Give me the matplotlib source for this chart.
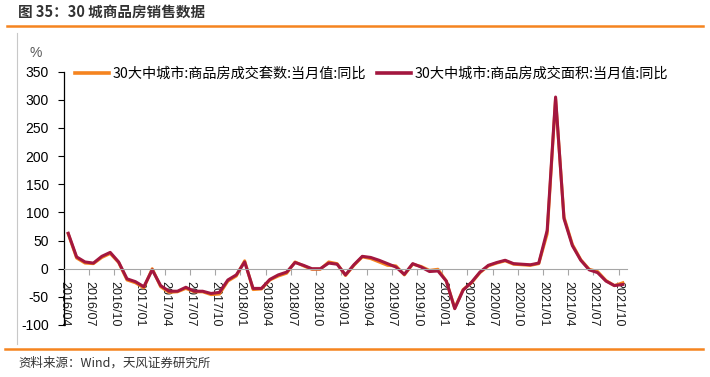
import matplotlib
matplotlib.use('Agg')
import matplotlib.pyplot as plt
import matplotlib.lines as mlines
import numpy as np
import pandas as pd

plt.rcParams['font.family'] = ['Liberation Sans', 'Noto Sans CJK SC', 'DejaVu Sans']
plt.rcParams['axes.unicode_minus'] = False

# 月份 2016/04 - 2021/10
months = pd.date_range('2016-04-01', periods=67, freq='MS').strftime('%Y/%m').tolist()

# 30大中城市:商品房成交套数:当月值:同比 (%)
units_yoy = [62, 19, 10, 9, 20, 27, 11, -20, -25, -34,
             0, -32, -42, -41, -35, -41, -41, -46, -45, -22,
             -13, 14, -37, -36, -20, -13, -8, 12, 5, -1,
             -1, 12, 9, -12, 6, 21, 18, 12, 6, 5,
             -11, 8, 4, -3, -1, -22, -70, -37, -25, -7,
             5, 10, 14, 8, 7, 6, 9, 62, 302, 92,
             43, 16, -1, -5, -21, -30, -25]

# 30大中城市:商品房成交面积:当月值:同比 (%)
area_yoy = [63, 21, 12, 10, 22, 29, 12, -18, -23, -32,
            -2, -30, -40, -40, -33, -40, -40, -44, -42, -20,
            -11, 12, -35, -35, -19, -11, -6, 11, 6, 0,
            0, 10, 8, -11, 7, 22, 20, 15, 9, 3,
            -10, 9, 3, -5, -4, -22, -71, -38, -24, -6,
            6, 11, 15, 9, 8, 7, 10, 68, 305, 89,
            41, 15, -2, -7, -22, -30, -28]

series_names = ['30大中城市:商品房成交套数:当月值:同比',
                '30大中城市:商品房成交面积:当月值:同比']
y_ticks = list(range(-100, 351, 50))

ORANGE = '#F5841F'
CRIMSON = '#A3173F'
W, H = 710, 377

fig = plt.figure(figsize=(W / 100, H / 100), dpi=100)
ax = fig.add_axes([64 / W, 1 - 325 / H, 563 / W, (325 - 71.7) / H])

# 先设置坐标轴位置（会重置刻度），再设置刻度样式
ax.spines['bottom'].set_position(('data', 0))
ax.spines['bottom'].set_color('#A6A6A6')
ax.spines['top'].set_visible(False)
ax.spines['right'].set_visible(False)
ax.spines['left'].set_color('black')
ax.spines['left'].set_linewidth(0.9)
ax.patch.set_alpha(0)

x = np.arange(len(months))
l1, = ax.plot(x, units_yoy, color=ORANGE, lw=2.2, solid_joinstyle='round')
l2, = ax.plot(x, area_yoy, color=CRIMSON, lw=2.2, solid_joinstyle='round')

ax.set_xlim(-0.5, len(months) - 0.5)
ax.set_ylim(-100, 350)
ax.set_yticks(y_ticks)
ax.tick_params(axis='y', direction='out', length=4, width=0.8,
               colors='black', labelsize=10, pad=7)
ax.set_xticks(x[::3] - 0.5)
ax.set_xticklabels(months[::3], fontsize=9)
ax.tick_params(axis='x', direction='out', length=4, width=0.8,
               color='#A6A6A6', labelcolor='#1a1a1a', pad=5, labelrotation=-90)

leg = fig.legend(handles=[l1, l2], labels=series_names, loc='center left',
                 bbox_to_anchor=(75 / W, 1 - 73.5 / H), ncol=2, frameon=False,
                 prop={'family': 'Noto Sans CJK SC', 'size': 10.2},
                 handlelength=2.4, handletextpad=0.25, columnspacing=0.8,
                 borderpad=0, borderaxespad=0)
for h in leg.get_lines():
    h.set_linewidth(2.6)

# 标题、单位、来源
fig.text(18 / W, 1 - 12 / H, '图 35：30 城商品房销售数据', fontsize=10.5,
         fontweight='bold', family=['Noto Sans CJK SC'], va='center',
         ha='left', color='#333333')
fig.text(36 / W, 1 - 53 / H, '%', ha='center', va='center', fontsize=10,
         color='#595959')
fig.text(18 / W, 1 - 363 / H, '资料来源：Wind，天风证券研究所', fontsize=9,
         va='center', ha='left', family=['Noto Sans CJK SC'], color='#333333')

# 橙色分隔线和左侧灰线
fig.add_artist(mlines.Line2D([7 / W, 703 / W], [1 - 26 / H] * 2, color=ORANGE, lw=1.8))
fig.add_artist(mlines.Line2D([5 / W, 703 / W], [1 - 349 / H] * 2, color=ORANGE, lw=1.8))
fig.add_artist(mlines.Line2D([17 / W] * 2, [1 - 33 / H, 1 - 344 / H], color='#C8C8C8', lw=0.8))

fig.savefig('out.png', dpi=100)
